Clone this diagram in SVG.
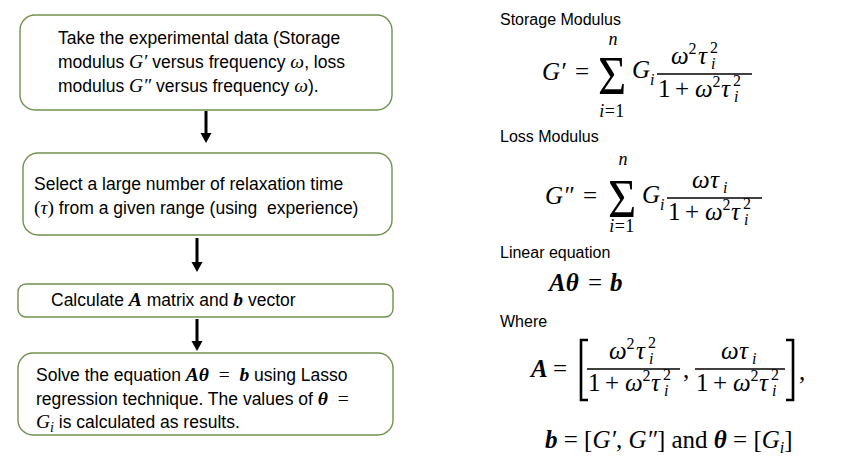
<svg xmlns="http://www.w3.org/2000/svg" width="849" height="468" viewBox="0 0 849 468">
<defs>
<style>
.box{fill:#fff;stroke:#71914f;stroke-width:1.4}
.t{font-family:"Liberation Sans",Arial,sans-serif;font-size:17.5px;fill:#000;white-space:pre}
.lbl{font-family:"Liberation Sans",Arial,sans-serif;font-size:16px;fill:#000}
.m{font-family:"Liberation Serif","DejaVu Serif",serif;fill:#000;font-size:19.5px}
.i{font-style:italic}
.b{font-weight:bold;font-style:italic}
.f{font-family:"Liberation Serif","DejaVu Serif",serif;font-size:25px;fill:#000;white-space:pre}
.s{font-family:"Liberation Serif","DejaVu Serif",serif;font-size:16px;fill:#000}
.lim{font-family:"Liberation Serif","DejaVu Serif",serif;font-size:18px;fill:#000}
.sig{font-family:"Liberation Serif","DejaVu Serif",serif;font-size:54px;fill:#000}
.fl{stroke:#000;stroke-width:1.4}
.arr{stroke:#000;stroke-width:3}
.br{fill:none;stroke:#000;stroke-width:2.6}
</style>
</defs>
<rect width="849" height="468" fill="#fff"/>

<g id="connectors">
<line class="arr" x1="206" y1="111" x2="206" y2="134"/>
<polygon points="200.5,133 211.5,133 206,143"/>
<line class="arr" x1="197" y1="238" x2="197" y2="263"/>
<polygon points="191.5,262 202.5,262 197,272"/>
<line class="arr" x1="197" y1="319" x2="197" y2="342"/>
<polygon points="191.5,341 202.5,341 197,351"/>
</g>

<g id="node1">
<rect class="box" x="20" y="15" width="372" height="95" rx="15"/>
<text class="t" x="58" y="44">Take the experimental data (Storage</text>
<text class="t" x="58" y="68">modulus <tspan class="m i">G′</tspan> versus frequency <tspan class="m i">ω</tspan>, loss</text>
<text class="t" x="58" y="92">modulus <tspan class="m i">G″</tspan> versus frequency <tspan class="m i">ω</tspan>).</text>
</g>

<g id="node2">
<rect class="box" x="23" y="153" width="369" height="82" rx="15"/>
<text class="t" x="34" y="190">Select a large number of relaxation time</text>
<text class="t" x="34" y="214"><tspan class="m">(</tspan><tspan class="m i">τ</tspan><tspan class="m">)</tspan> from a given range (using  experience)</text>
</g>

<g id="node3">
<rect class="box" x="18" y="284" width="375" height="33" rx="8"/>
<text class="t" x="51" y="306">Calculate <tspan class="m b">A</tspan> matrix and <tspan class="m b">b</tspan> vector</text>
</g>

<g id="node4">
<rect class="box" x="18" y="353" width="375" height="82" rx="15"/>
<text class="t" x="36" y="381">Solve the equation <tspan class="m b">Aθ</tspan><tspan class="m">  =  </tspan><tspan class="m b">b</tspan> using Lasso</text>
<text class="t" x="36" y="405">regression technique. The values of <tspan class="m b">θ</tspan><tspan class="m">  =</tspan></text>
<text class="t" x="36" y="428"><tspan class="m i">G</tspan><tspan class="m i" style="font-size:14px" dy="4">i</tspan><tspan dy="-4"> is calculated as results.</tspan></text>
</g>

<g id="storage">
<text class="lbl" x="500" y="25">Storage Modulus</text>
<text class="f i" x="542" y="80">G′</text>
<text class="f" x="575" y="80">=</text>
<text class="sig" transform="translate(598,94) scale(0.9,1.02)">Σ</text>
<text class="lim i" x="613" y="45" text-anchor="middle">n</text>
<text class="lim" x="612" y="117" text-anchor="middle" letter-spacing="0.5"><tspan class="i">i</tspan>=1</text>
<text class="f i" x="632" y="78">G</text>
<text class="s i" x="650" y="85">i</text>
<line class="fl" x1="657" y1="74" x2="752" y2="74"/>
<g transform="translate(671,64)">
<text class="f i" x="0" y="0">ω</text><text class="s" x="17.5" y="-10">2</text>
<text class="f i" x="27" y="0">τ</text><text class="s" x="39" y="-11">2</text><text class="s i" x="40" y="5">i</text>
</g>
<g transform="translate(658,97)">
<text class="f" x="0" y="0">1</text><text class="f" x="17" y="0">+</text>
<text class="f i" x="37" y="0">ω</text><text class="s" x="54.5" y="-10">2</text>
<text class="f i" x="63" y="0">τ</text><text class="s" x="75" y="-11">2</text><text class="s i" x="76" y="5">i</text>
</g>
</g>

<g id="loss">
<text class="lbl" x="500" y="142">Loss Modulus</text>
<text class="f i" x="545" y="204">G″</text>
<text class="f" x="583" y="204">=</text>
<text class="sig" transform="translate(608,217) scale(0.9,1.02)">Σ</text>
<text class="lim i" x="623" y="165" text-anchor="middle">n</text>
<text class="lim" x="622" y="232" text-anchor="middle" letter-spacing="0.5"><tspan class="i">i</tspan>=1</text>
<text class="f i" x="642" y="203">G</text>
<text class="s i" x="660" y="210">i</text>
<line class="fl" x1="667" y1="198" x2="762" y2="198"/>
<g transform="translate(692,188)">
<text class="f i" x="0" y="0">ω</text><text class="f i" x="18" y="0">τ</text><text class="s i" x="31" y="5">i</text>
</g>
<g transform="translate(668,220)">
<text class="f" x="0" y="0">1</text><text class="f" x="17" y="0">+</text>
<text class="f i" x="37" y="0">ω</text><text class="s" x="54.5" y="-10">2</text>
<text class="f i" x="63" y="0">τ</text><text class="s" x="75" y="-11">2</text><text class="s i" x="76" y="5">i</text>
</g>
</g>

<g id="linear">
<text class="lbl" x="500" y="258">Linear equation</text>
<text class="f b" x="549" y="291">Aθ</text>
<text class="f" x="588" y="291">=</text>
<text class="f b" x="610" y="291">b</text>
</g>

<g id="where">
<text class="lbl" x="500" y="327">Where</text>
<text class="f b" x="531" y="377">A</text>
<text class="f" x="553" y="377">=</text>
<path class="br" d="M588,340 H581 V400 H588"/>
<line class="fl" x1="587" y1="369" x2="680" y2="369"/>
<g transform="translate(609,359)">
<text class="f i" x="0" y="0">ω</text><text class="s" x="17.5" y="-10">2</text>
<text class="f i" x="27" y="0">τ</text><text class="s" x="39" y="-11">2</text><text class="s i" x="40" y="5">i</text>
</g>
<g transform="translate(588,391)">
<text class="f" x="0" y="0">1</text><text class="f" x="17" y="0">+</text>
<text class="f i" x="37" y="0">ω</text><text class="s" x="54.5" y="-10">2</text>
<text class="f i" x="63" y="0">τ</text><text class="s" x="75" y="-11">2</text><text class="s i" x="76" y="5">i</text>
</g>
<text class="f" x="683" y="378">,</text>
<line class="fl" x1="695" y1="369" x2="785" y2="369"/>
<g transform="translate(721,359)">
<text class="f i" x="0" y="0">ω</text><text class="f i" x="18" y="0">τ</text><text class="s i" x="31" y="5">i</text>
</g>
<g transform="translate(696,391)">
<text class="f" x="0" y="0">1</text><text class="f" x="17" y="0">+</text>
<text class="f i" x="37" y="0">ω</text><text class="s" x="54.5" y="-10">2</text>
<text class="f i" x="63" y="0">τ</text><text class="s" x="75" y="-11">2</text><text class="s i" x="76" y="5">i</text>
</g>
<path class="br" d="M786,340 H793 V400 H786"/>
<text class="f" x="799" y="380">,</text>
<text class="f" x="545" y="448"><tspan class="b">b</tspan> = [<tspan class="i">G′</tspan>, <tspan class="i">G″</tspan>] and <tspan class="b">θ</tspan> = [<tspan class="i">G</tspan><tspan class="i" style="font-size:16px" dy="5">i</tspan><tspan dy="-5">]</tspan></text>
</g>
</svg>
